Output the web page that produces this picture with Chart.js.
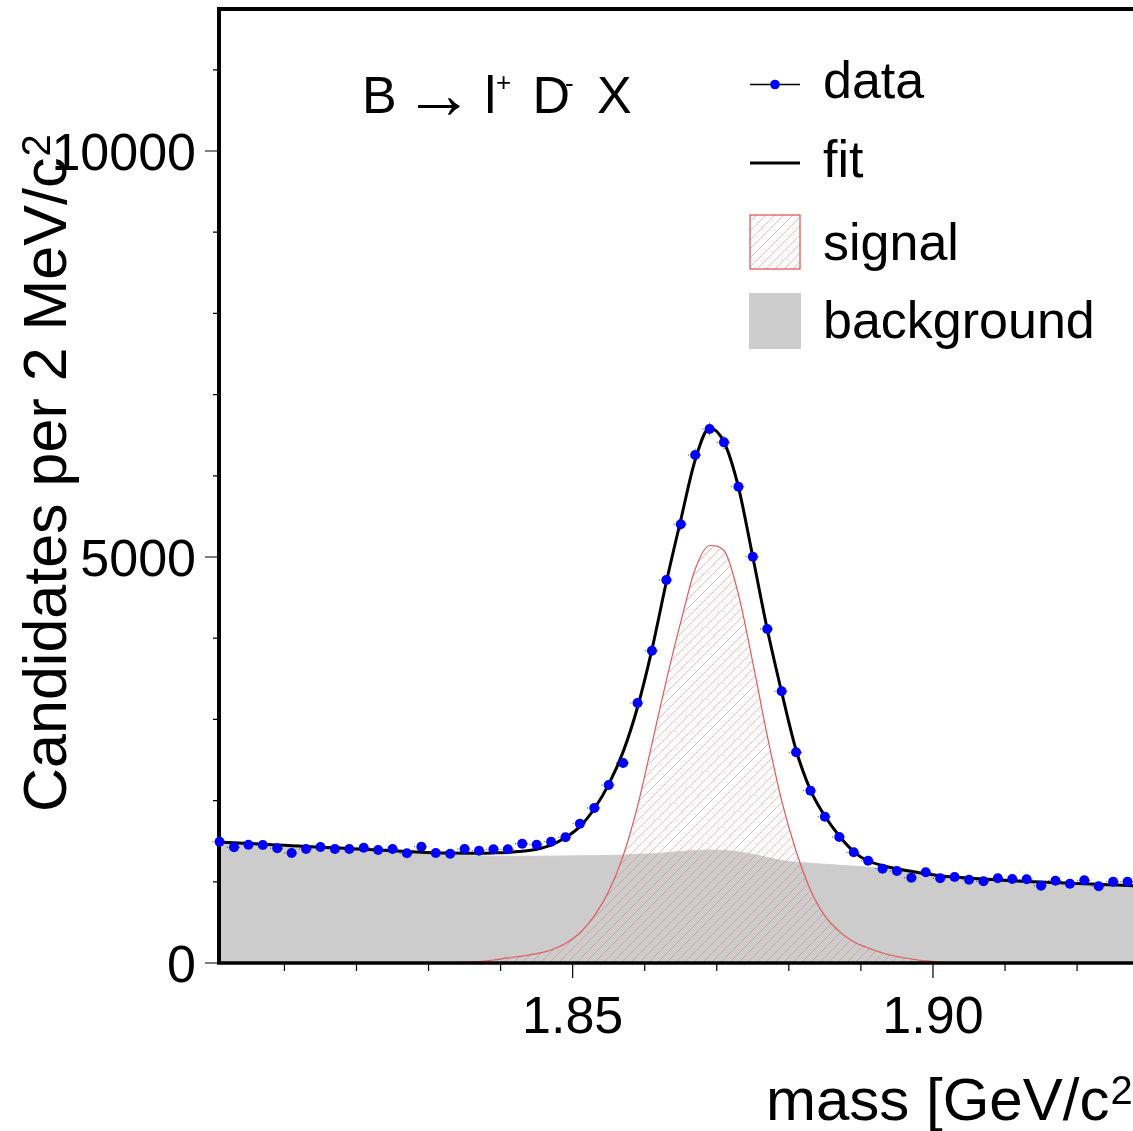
<!DOCTYPE html>
<html>
<head>
<meta charset="utf-8">
<title>D meson mass fit</title>
<script src="https://cdn.jsdelivr.net/npm/chart.js@4/dist/chart.umd.min.js"></script>
<style>
    html, body { margin: 0; padding: 0; background: #fff; overflow: hidden; }
    #wrap { width: 1133px; height: 1131px; position: relative; }
</style>
</head>
<body>
<div id="wrap"><canvas id="massChart" width="1133" height="1131"></canvas></div>
<script>
// bin centres [GeV/c^2], 2 MeV bins (last one lies just past the visible edge)
const massBins = [
    1.801, 1.803, 1.805, 1.807, 1.809, 1.811, 1.813, 1.815, 1.817, 1.819,
    1.821, 1.823, 1.825, 1.827, 1.829, 1.831, 1.833, 1.835, 1.837, 1.839,
    1.841, 1.843, 1.845, 1.847, 1.849, 1.851, 1.853, 1.855, 1.857, 1.859,
    1.861, 1.863, 1.865, 1.867, 1.869, 1.871, 1.873, 1.875, 1.877, 1.879,
    1.881, 1.883, 1.885, 1.887, 1.889, 1.891, 1.893, 1.895, 1.897, 1.899,
    1.901, 1.903, 1.905, 1.907, 1.909, 1.911, 1.913, 1.915, 1.917, 1.919,
    1.921, 1.923, 1.925, 1.927, 1.929
];

// candidates per bin
const dataCounts = [
    1494, 1425, 1457, 1453, 1413, 1355, 1404, 1429, 1404, 1404,
    1420, 1392, 1404, 1351, 1432, 1355, 1346, 1404, 1383, 1400,
    1400, 1469, 1457, 1494, 1548, 1716, 1909, 2192, 2463, 3202,
    3846, 4717, 5403, 6256, 6576, 6412, 5866, 5004, 4113, 3346,
    2595, 2122, 1802, 1552, 1363, 1260, 1161, 1133, 1050, 1117,
    1043, 1059, 1026, 1006, 1043, 1034, 1031, 952, 1014, 977,
    1018, 945, 1001, 1001, null
];

// total fit curve
const fitValues = [
    1490, 1481, 1472, 1463, 1454, 1445, 1436, 1427, 1418, 1409,
    1400, 1391, 1382, 1373, 1364, 1357, 1354, 1353, 1353, 1356,
    1362, 1376, 1402, 1452, 1545, 1680, 1900, 2200, 2600, 3150,
    3860, 4692, 5456, 6195, 6590, 6416, 5862, 5000, 4113, 3337,
    2623, 2130, 1810, 1564, 1373, 1256, 1201, 1160, 1130, 1099,
    1075, 1058, 1045, 1034, 1023, 1014, 1005, 997, 990, 983,
    976, 969, 962, 955, 949
];

// signal component
const signalValues = [
    null, null, null, null, null, null, null, null, null, null,
    null, null, null, null, 0, 3, 6, 10, 18, 37,
    62, 85, 115, 160, 240, 370, 580, 880, 1320, 1930,
    2700, 3480, 4200, 4850, 5142, 5080, 4540, 3700, 2800, 2000,
    1380, 900, 580, 390, 262, 185, 123, 80, 49, 25,
    12, 5, 0, null, null, null, null, null, null, null,
    null, null, null, null, null
];

// background component
const backgroundValues = [
    1478, 1469, 1460, 1451, 1442, 1433, 1424, 1415, 1406, 1397,
    1388, 1379, 1370, 1361, 1352, 1343, 1330, 1322, 1318, 1316,
    1315, 1315, 1315, 1316, 1318, 1320, 1322, 1325, 1330, 1338,
    1345, 1358, 1372, 1385, 1392, 1386, 1368, 1338, 1300, 1262,
    1240, 1228, 1216, 1204, 1193, 1180, 1163, 1143, 1121, 1098,
    1060, 1047, 1035, 1024, 1013, 1004, 995, 987, 980, 973,
    966, 959, 952, 945, 939
];

const xMajorTicks = [1.85, 1.90];
const xMinorTicks = [1.81, 1.82, 1.83, 1.84, 1.86, 1.87, 1.88, 1.89, 1.91, 1.92];
const yMajorTicks = [0, 5000, 10000];
const yMinorTicks = [1000, 2000, 3000, 4000, 6000, 7000, 8000, 9000, 11000];

const X_MIN = 1.80092;
const X_MAX = 1.92776;
const Y_MAX = 11749;

const FONT = '"Liberation Sans", Arial, Helvetica, sans-serif';
const SIGNAL_LINE = '#e05a5a';

function toPoints(values) {
    return massBins.map((m, i) => ({ x: m, y: values[i] }));
}

/**
 * Diagonal red hatch used for the signal area
 */
function makeHatch() {
    const c = document.createElement('canvas');
    c.width = 9;
    c.height = 9;
    const g = c.getContext('2d');
    g.strokeStyle = 'rgba(228,120,120,0.5)';
    g.lineWidth = 1;
    g.beginPath();
    g.moveTo(-1, 10); g.lineTo(10, -1);
    g.moveTo(-2, 2); g.lineTo(2, -2);
    g.moveTo(7, 11); g.lineTo(11, 7);
    g.stroke();
    return g.createPattern(c, 'repeat');
}

const hatch = makeHatch();

function txt(ctx, s, x, y, size, align, family) {
    ctx.font = size + 'px ' + (family || FONT);
    ctx.textAlign = align || 'left';
    ctx.textBaseline = 'alphabetic';
    ctx.fillText(s, x, y);
    return ctx.measureText(s).width;
}

/**
 * Frame, tick marks and error bars (drawn just below the data points)
 */
const framePlugin = {
    id: 'frame',
    beforeDatasetDraw(chart, args) {
        if (args.index !== 0) return;
        const ctx = chart.ctx;
        const a = chart.chartArea;
        const xs = chart.scales.x;
        const ys = chart.scales.y;
        ctx.save();

        // error bars
        ctx.strokeStyle = '#333';
        ctx.lineWidth = 1;
        ctx.setLineDash([1, 2]);
        ctx.beginPath();
        massBins.forEach((m, i) => {
            if (dataCounts[i] === null) return;
            const py = ys.getPixelForValue(dataCounts[i]);
            ctx.moveTo(xs.getPixelForValue(m - 0.001), py);
            ctx.lineTo(xs.getPixelForValue(m + 0.001), py);
            const e = Math.sqrt(dataCounts[i]);
            const px = xs.getPixelForValue(m);
            ctx.moveTo(px, ys.getPixelForValue(dataCounts[i] - e));
            ctx.lineTo(px, ys.getPixelForValue(dataCounts[i] + e));
        });
        ctx.stroke();
        ctx.setLineDash([]);

        // frame
        ctx.strokeStyle = '#000';
        ctx.lineWidth = 4;
        ctx.beginPath();
        ctx.moveTo(a.right + 5, a.top);
        ctx.lineTo(a.left, a.top);
        ctx.lineTo(a.left, a.bottom);
        ctx.stroke();
        ctx.lineWidth = 3.5;
        ctx.beginPath();
        ctx.moveTo(a.left - 2, a.bottom);
        ctx.lineTo(a.right + 5, a.bottom);
        ctx.stroke();

        // tick marks
        ctx.lineWidth = 1.2;
        ctx.beginPath();
        xMajorTicks.forEach(v => {
            const p = xs.getPixelForValue(v);
            ctx.moveTo(p, a.bottom); ctx.lineTo(p, a.bottom + 15);
        });
        xMinorTicks.forEach(v => {
            const p = xs.getPixelForValue(v);
            ctx.moveTo(p, a.bottom); ctx.lineTo(p, a.bottom + 8);
        });
        yMajorTicks.forEach(v => {
            const p = ys.getPixelForValue(v);
            ctx.moveTo(a.left, p); ctx.lineTo(a.left - 14, p);
        });
        yMinorTicks.forEach(v => {
            const p = ys.getPixelForValue(v);
            ctx.moveTo(a.left, p); ctx.lineTo(a.left - 6, p);
        });
        ctx.stroke();
        ctx.restore();
    }
};

/**
 * Tick labels, axis titles, process label and legend
 */
const labelPlugin = {
    id: 'labels',
    afterDraw(chart) {
        const ctx = chart.ctx;
        const a = chart.chartArea;
        const xs = chart.scales.x;
        const ys = chart.scales.y;
        ctx.save();
        ctx.fillStyle = '#000';

        xMajorTicks.forEach(v => {
            txt(ctx, v.toFixed(2), xs.getPixelForValue(v), a.bottom + 70, 52, 'center');
        });
        yMajorTicks.forEach(v => {
            txt(ctx, String(v), 196, ys.getPixelForValue(v) + 18.5, 52, 'right');
        });

        // x title
        let x = 766;
        x += txt(ctx, 'mass [GeV/c', x, 1120, 60);
        x += txt(ctx, '2', x + 1, 1104, 40);
        txt(ctx, ']', x + 2, 1120, 60);

        // y title (rotated)
        ctx.save();
        ctx.translate(66, 812);
        ctx.rotate(-Math.PI / 2);
        const w = txt(ctx, 'Candidates per 2 MeV/c', 0, 0, 61);
        txt(ctx, '2', w + 1, -16, 40);
        ctx.restore();

        // process label
        txt(ctx, 'B', 362, 113, 52);
        txt(ctx, '\u2192', 404, 118, 70);
        txt(ctx, 'l', 484.5, 113, 52);
        txt(ctx, '+', 496, 91, 26);
        txt(ctx, 'D', 532.5, 113, 52);
        txt(ctx, '-', 565, 92, 26);
        txt(ctx, 'X', 597, 113, 52);

        // legend
        ctx.strokeStyle = '#000';
        ctx.lineWidth = 1.5;
        ctx.beginPath();
        ctx.moveTo(750, 84.5); ctx.lineTo(800, 84.5);
        ctx.stroke();
        ctx.fillStyle = '#0000ff';
        ctx.beginPath();
        ctx.arc(775, 84.5, 4.8, 0, Math.PI * 2);
        ctx.fill();

        ctx.lineWidth = 3;
        ctx.beginPath();
        ctx.moveTo(750, 163); ctx.lineTo(800, 163);
        ctx.stroke();

        ctx.fillStyle = hatch;
        ctx.fillRect(750, 215, 50, 54);
        ctx.strokeStyle = SIGNAL_LINE;
        ctx.lineWidth = 1.3;
        ctx.strokeRect(750, 215, 50, 54);

        ctx.fillStyle = '#cccccc';
        ctx.fillRect(749, 293, 52, 56);

        ctx.fillStyle = '#000';
        txt(ctx, 'data', 823, 98, 52);
        txt(ctx, 'fit', 823, 177, 52);
        txt(ctx, 'signal', 823, 260, 52);
        txt(ctx, 'background', 823, 338, 52);

        ctx.restore();
    }
};

const ctx = document.getElementById('massChart');

new Chart(ctx, {
    type: 'line',
    data: {
        datasets: [
            {
                label: 'data',
                data: toPoints(dataCounts),
                showLine: false,
                pointRadius: 5,
                pointBackgroundColor: '#0000ff',
                pointBorderWidth: 0,
                clip: false,
                order: 0
            },
            {
                label: 'fit',
                data: toPoints(fitValues),
                borderColor: '#000',
                borderWidth: 3,
                pointRadius: 0,
                fill: false,
                cubicInterpolationMode: 'monotone',
                order: 1
            },
            {
                label: 'signal',
                data: toPoints(signalValues),
                borderColor: SIGNAL_LINE,
                borderWidth: 1.2,
                backgroundColor: hatch,
                fill: 'origin',
                pointRadius: 0,
                cubicInterpolationMode: 'monotone',
                order: 2
            },
            {
                label: 'background',
                data: toPoints(backgroundValues),
                borderColor: '#cccccc',
                borderWidth: 1,
                backgroundColor: '#cccccc',
                fill: 'origin',
                pointRadius: 0,
                cubicInterpolationMode: 'monotone',
                order: 3
            }
        ]
    },
    options: {
        responsive: false,
        animation: false,
        devicePixelRatio: 1,
        layout: { autoPadding: false, padding: { left: 219, right: 0, top: 9, bottom: 168 } },
        scales: {
            x: { type: 'linear', min: X_MIN, max: X_MAX, display: false },
            y: { type: 'linear', min: 0, max: Y_MAX, display: false }
        },
        plugins: {
            legend: { display: false },
            tooltip: { enabled: false }
        }
    },
    plugins: [framePlugin, labelPlugin]
});
</script>
</body>
</html>
